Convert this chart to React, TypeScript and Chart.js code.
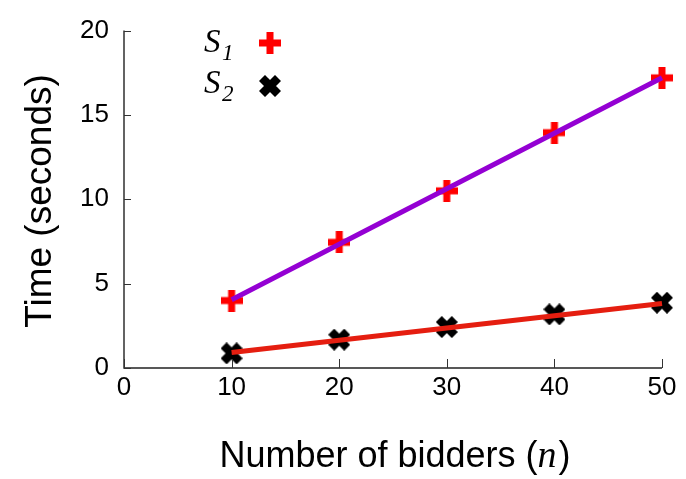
import React, { useEffect, useRef } from "react";
import { Chart, registerables } from "chart.js";

Chart.register(...registerables);

const bidders = [10, 20, 30, 40, 50];
const timeS1 = [4.0, 7.45, 10.5, 13.95, 17.2];
const timeS2 = [0.87, 1.68, 2.43, 3.18, 3.87];
const fitX = [10, 50];
const fitS1 = [4.05, 17.2];
const fitS2 = [0.92, 3.82];
const xTicks = [0, 10, 20, 30, 40, 50];
const yTicks = [0, 5, 10, 15, 20];

const SANS = "'Liberation Sans', Arial, sans-serif";
const SERIF = "'Liberation Serif', 'Times New Roman', serif";

function makePlus(): HTMLCanvasElement {
  const c = document.createElement("canvas");
  c.width = 22;
  c.height = 22;
  const g = c.getContext("2d")!;
  g.fillStyle = "#ff0000";
  g.fillRect(7.5, 0, 7, 22);
  g.fillRect(0, 7.5, 22, 7);
  return c;
}

function makeX(): HTMLCanvasElement {
  const c = document.createElement("canvas");
  c.width = 22;
  c.height = 22;
  const g = c.getContext("2d")!;
  g.strokeStyle = "#000000";
  g.lineWidth = 8.5;
  g.lineCap = "square";
  g.beginPath();
  g.moveTo(6, 6);
  g.lineTo(16, 16);
  g.moveTo(16, 6);
  g.lineTo(6, 16);
  g.stroke();
  return c;
}

export default function App() {
  const ref = useRef<HTMLCanvasElement | null>(null);

  useEffect(() => {
    document.body.style.margin = "0";
    const plus = makePlus();
    const xmark = makeX();

    const overlay = {
      id: "overlay",
      afterDraw(chart: any) {
        const ctx = chart.ctx as CanvasRenderingContext2D;
        const xs = chart.scales.x;
        const ys = chart.scales.y;
        const { left, bottom, top, right } = chart.chartArea;
        ctx.save();
        // axes
        ctx.strokeStyle = "#222";
        ctx.lineWidth = 1.4;
        ctx.beginPath();
        ctx.moveTo(left, top);
        ctx.lineTo(left, bottom);
        ctx.lineTo(right, bottom);
        ctx.stroke();
        // inward ticks
        ctx.lineWidth = 1;
        ctx.strokeStyle = "#333";
        ctx.beginPath();
        for (const v of xTicks) {
          const px = Math.round(xs.getPixelForValue(v)) + 0.5;
          ctx.moveTo(px, bottom);
          ctx.lineTo(px, bottom - 9);
        }
        for (const v of yTicks) {
          const py = Math.round(ys.getPixelForValue(v)) + 0.5;
          ctx.moveTo(left, py);
          ctx.lineTo(left + 7, py);
        }
        ctx.stroke();

        // legend
        ctx.fillStyle = "#000";
        ctx.textBaseline = "alphabetic";
        ctx.textAlign = "left";
        const leg = [
          { sub: "1", y: 52, img: plus, my: 43 },
          { sub: "2", y: 93, img: xmark, my: 86 },
        ];
        for (const l of leg) {
          ctx.font = `italic 33px ${SERIF}`;
          ctx.fillText("S", 204, l.y);
          ctx.font = `italic 23px ${SERIF}`;
          ctx.fillText(l.sub, 222, l.y + 8);
          ctx.drawImage(l.img, 270 - 11, l.my - 11);
        }

        // x title
        const p1 = "Number of bidders (";
        const p2 = "n";
        const p3 = ")";
        ctx.font = `36px ${SANS}`;
        const w1 = ctx.measureText(p1).width;
        const w3 = ctx.measureText(p3).width;
        ctx.font = `italic 38px ${SERIF}`;
        const w2 = ctx.measureText(p2).width + 2;
        const total = w1 + w2 + w3;
        const sx = 395 - total / 2;
        const by = 467;
        ctx.font = `36px ${SANS}`;
        ctx.fillText(p1, sx, by);
        ctx.font = `italic 38px ${SERIF}`;
        ctx.fillText(p2, sx + w1, by);
        ctx.font = `36px ${SANS}`;
        ctx.fillText(p3, sx + w1 + w2, by);

        // y title
        ctx.translate(51, 201);
        ctx.rotate(-Math.PI / 2);
        ctx.textAlign = "center";
        ctx.font = `37px ${SANS}`;
        ctx.fillText("Time (seconds)", 0, 0);
        ctx.restore();
      },
    };

    const chart = new Chart(ref.current!, {
      type: "scatter",
      data: {
        datasets: [
          {
            label: "fit S1",
            data: fitX.map((x, i) => ({ x, y: fitS1[i] })),
            showLine: true,
            borderColor: "#9400d3",
            borderWidth: 5,
            pointRadius: 0,
            order: 0,
            clip: false,
          },
          {
            label: "fit S2",
            data: fitX.map((x, i) => ({ x, y: fitS2[i] })),
            showLine: true,
            borderColor: "#e51e10",
            borderWidth: 5,
            pointRadius: 0,
            order: 0,
            clip: false,
          },
          {
            label: "S1",
            data: bidders.map((x, i) => ({ x, y: timeS1[i] })),
            pointStyle: plus as any,
            pointRadius: 11,
            order: 1,
            clip: false,
          },
          {
            label: "S2",
            data: bidders.map((x, i) => ({ x, y: timeS2[i] })),
            pointStyle: xmark as any,
            pointRadius: 11,
            order: 1,
            clip: false,
          },
        ],
      },
      options: {
        animation: false,
        responsive: false,
        layout: { padding: { top: 22, right: 24, left: 0, bottom: 0 } },
        plugins: {
          legend: { display: false },
          tooltip: { enabled: false },
        },
        scales: {
          x: {
            type: "linear",
            min: 0,
            max: 50,
            afterBuildTicks: (s: any) => {
              s.ticks = xTicks.map((v) => ({ value: v }));
            },
            afterFit: (s: any) => {
              s.height = 111;
            },
            ticks: {
              font: { family: SANS, size: 26 },
              color: "#000",
              padding: 4,
              maxRotation: 0,
            },
            grid: { display: false, drawTicks: false },
            border: { display: false },
          },
          y: {
            type: "linear",
            min: 0,
            max: 20,
            afterBuildTicks: (s: any) => {
              s.ticks = yTicks.map((v) => ({ value: v }));
            },
            afterFit: (s: any) => {
              s.width = 124;
            },
            ticks: {
              font: { family: SANS, size: 26 },
              color: "#000",
              padding: 15,
            },
            grid: { display: false, drawTicks: false },
            border: { display: false },
          },
        },
      },
      plugins: [overlay],
    });
    return () => chart.destroy();
  }, []);

  return (
    <div style={{ position: "absolute", left: 0, top: 0, width: 686, height: 479 }}>
      <canvas ref={ref} width={686} height={479} style={{ width: 686, height: 479 }} />
    </div>
  );
}
